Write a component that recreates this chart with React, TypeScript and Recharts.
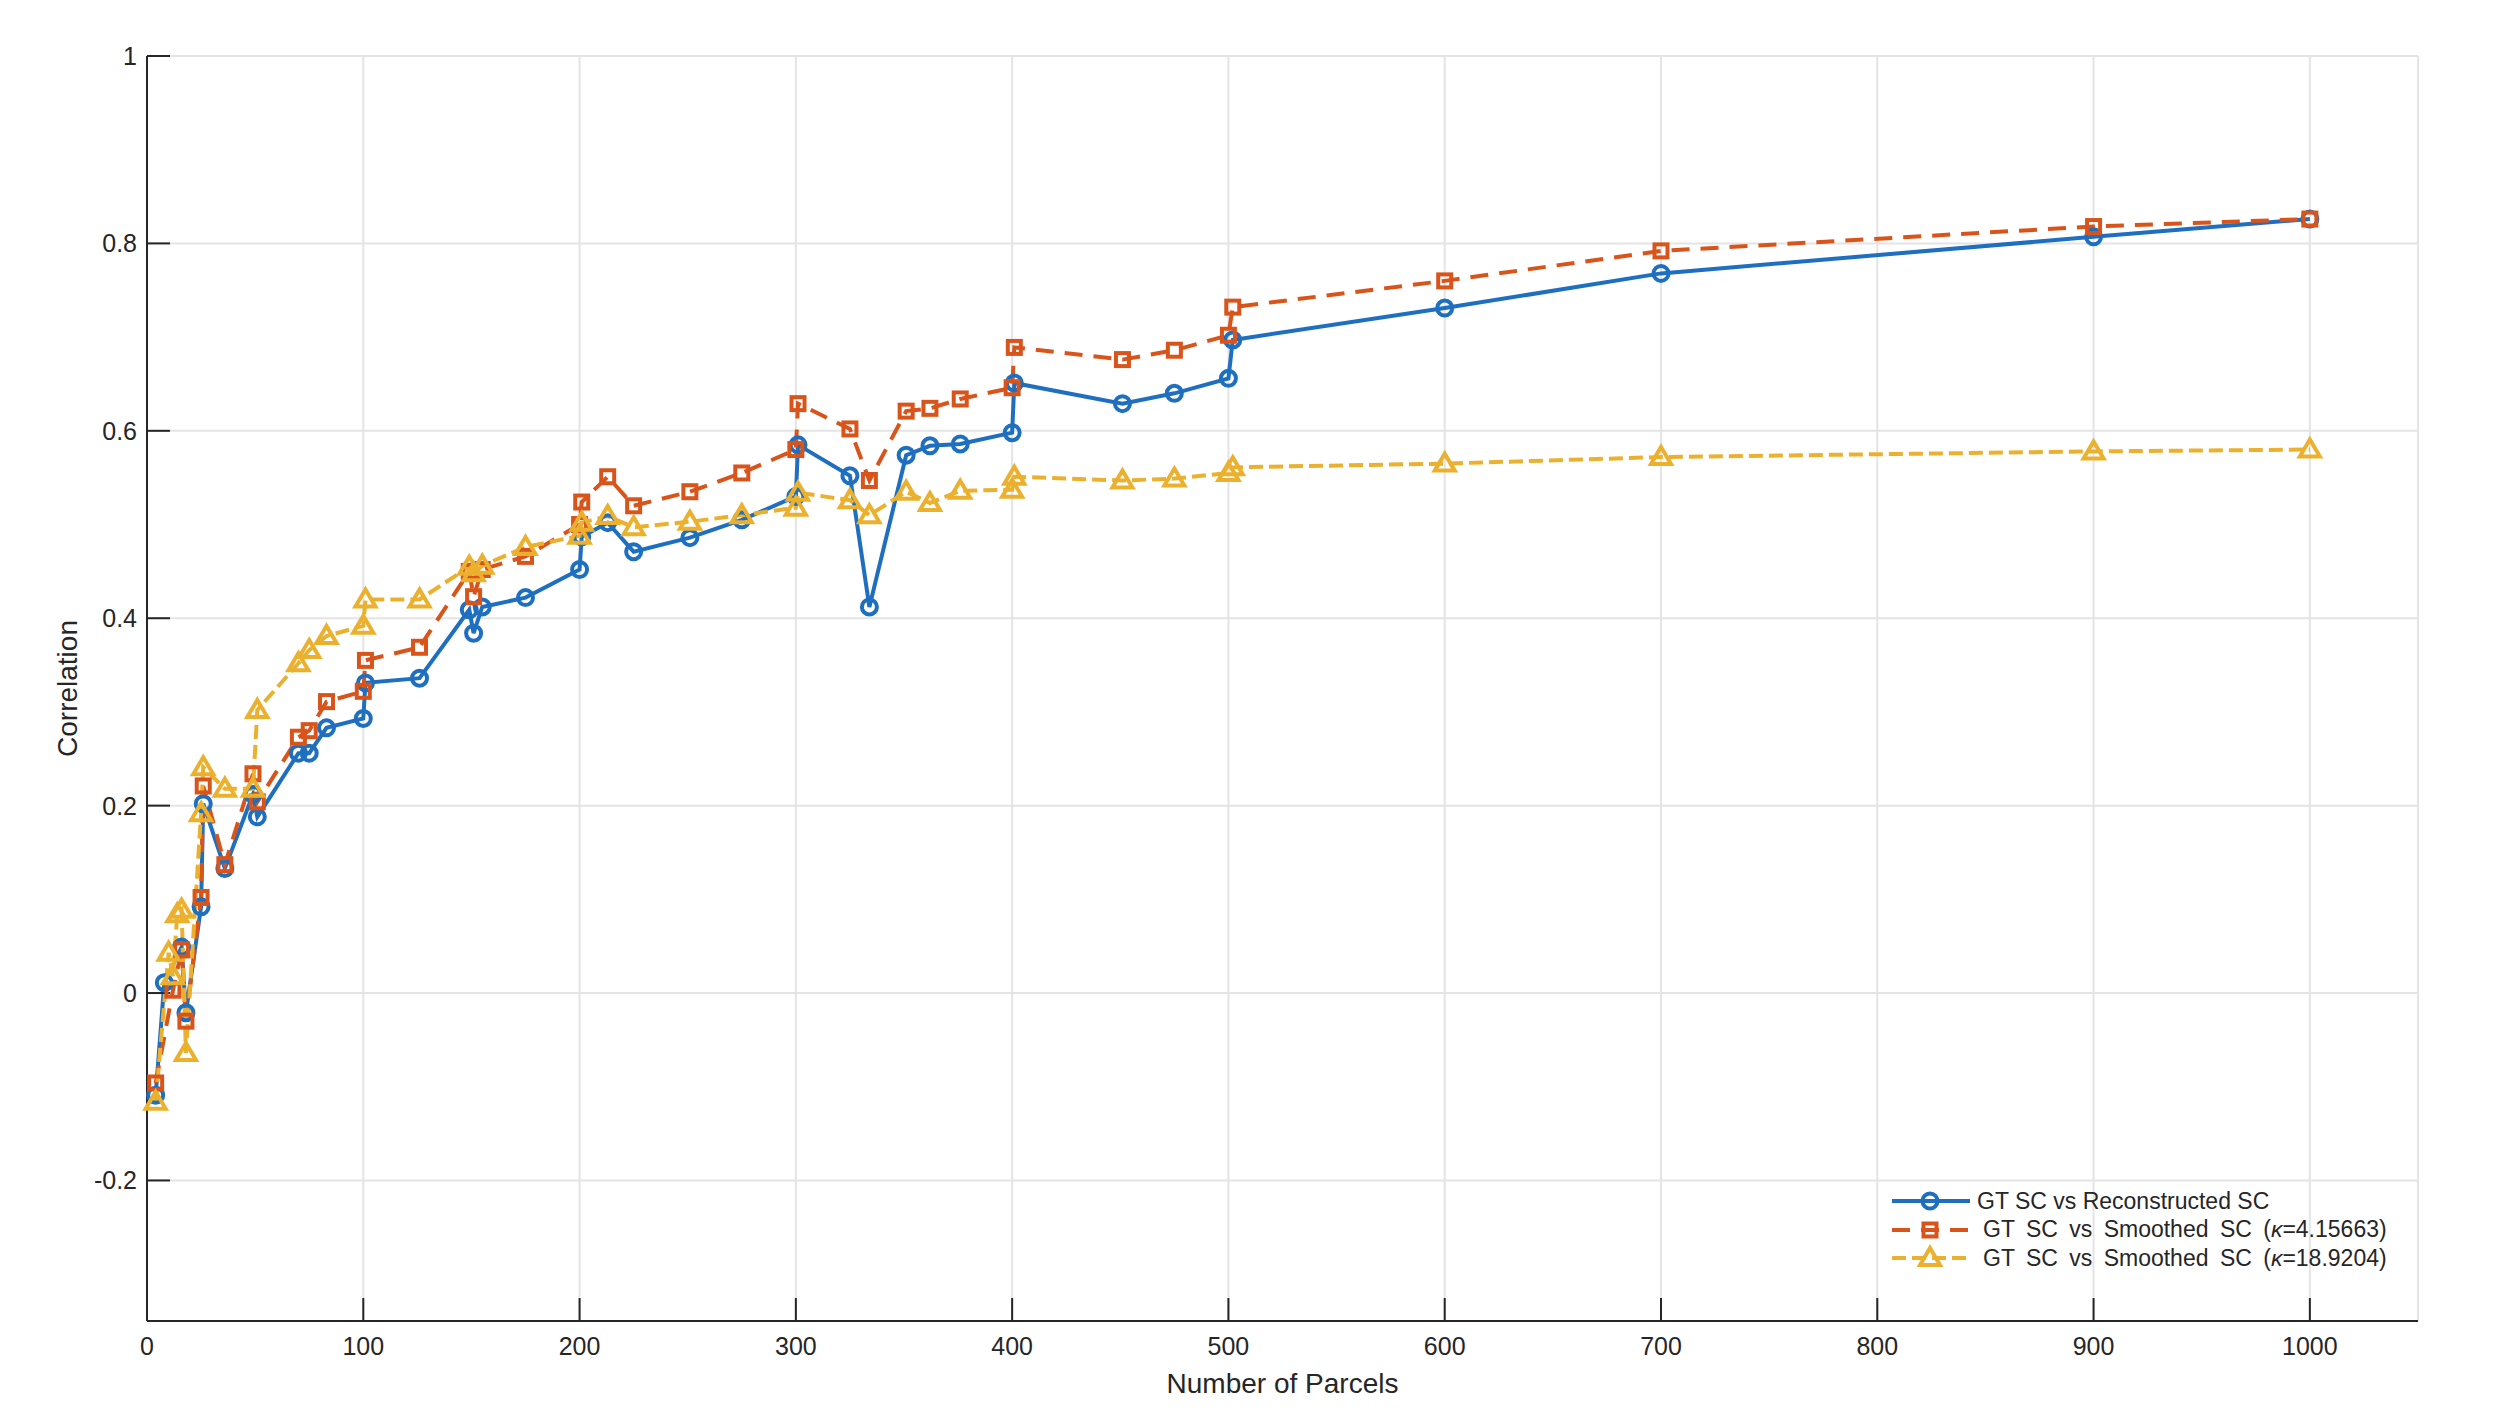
import { LineChart, Line, XAxis, YAxis, CartesianGrid, Legend, Label } from "recharts";

const parcels = [
  4, 8, 10, 12, 14, 16, 18, 25, 26, 36, 49, 51, 70, 75, 83, 100, 101, 126, 149, 151, 155, 175,
  200, 201, 213, 225, 251, 275, 300, 301, 325, 334, 351, 362, 376, 400, 401, 451, 475, 500, 502,
  600, 700, 900, 1000,
];

// GT SC vs Reconstructed SC
const reconstructed = [
  -0.109, 0.011, null, null, null, 0.049, -0.021, 0.092, 0.202, 0.133, 0.212, 0.188, 0.256, 0.256,
  0.283, 0.293, 0.331, 0.336, 0.409, 0.384, 0.412, 0.422, 0.452, 0.487, 0.502, 0.471, 0.486, 0.505,
  0.53, 0.585, 0.552, 0.412, 0.574, 0.584, 0.586, 0.598, 0.651, 0.629, 0.64, 0.656, 0.697, 0.731,
  0.768, 0.807, 0.826,
];

// GT SC vs Smoothed SC (kappa = 4.15663)
const smoothedLow = [
  -0.096, null, null, 0.003, null, 0.046, -0.03, 0.102, 0.221, 0.137, 0.234, 0.204, 0.273, 0.28,
  0.311, 0.322, 0.355, 0.369, 0.45, 0.423, 0.452, 0.466, 0.5, 0.524, 0.551, 0.52, 0.535, 0.555,
  0.58, 0.629, 0.602, 0.547, 0.621, 0.624, 0.634, 0.646, 0.689, 0.676, 0.686, 0.702, 0.732, 0.76,
  0.792, 0.818, 0.826,
];

// GT SC vs Smoothed SC (kappa = 18.9204)
const smoothedHigh = [
  -0.116, null, 0.043, 0.018, 0.084, 0.089, -0.064, 0.192, 0.241, 0.218, 0.218, 0.302, 0.352,
  0.366, 0.381, 0.392, 0.42, 0.42, 0.455, 0.448, 0.456, 0.476, 0.488, 0.502, 0.509, 0.497, 0.503,
  0.51, 0.518, 0.534, 0.526, 0.51, 0.535, 0.523, 0.536, 0.537, 0.551, 0.547, 0.549, 0.555, 0.561,
  0.565, 0.572, 0.578, 0.58,
];

const xTicks = [0, 100, 200, 300, 400, 500, 600, 700, 800, 900, 1000];
const yTicks = [-0.2, 0, 0.2, 0.4, 0.6, 0.8, 1];

const FONT = '"Liberation Sans", Arial, Helvetica, sans-serif';
const INK = "#262626";
const LW = 4;

type Shape = "circle" | "square" | "triangle";

const SERIES: { key: string; color: string; dash?: string; shape: Shape }[] = [
  { key: "reconstructed", color: "#1f6fc0", shape: "circle" },
  { key: "smoothedLow", color: "#d9541a", dash: "18 11", shape: "square" },
  { key: "smoothedHigh", color: "#ebb12e", dash: "14 6", shape: "triangle" },
];

const data = parcels.map((x, i) => ({
  x,
  reconstructed: reconstructed[i],
  smoothedLow: smoothedLow[i],
  smoothedHigh: smoothedHigh[i],
}));

function Marker({ shape, cx, cy, color }: { shape: Shape; cx: number; cy: number; color: string }) {
  if (shape === "circle") {
    return <circle cx={cx} cy={cy} r={7.5} fill="none" stroke={color} strokeWidth={LW} />;
  }
  if (shape === "square") {
    return <rect x={cx - 6.5} y={cy - 6.5} width={13} height={13} fill="none" stroke={color} strokeWidth={LW} />;
  }
  const s = 10;
  return (
    <polygon
      points={`${cx},${cy - s} ${cx + s},${cy + s * 0.7} ${cx - s},${cy + s * 0.7}`}
      fill="none"
      stroke={color}
      strokeWidth={LW}
      strokeLinejoin="miter"
    />
  );
}

const makeDot = (shape: Shape, color: string, name: string) => (p: any) => {
  const k = `${name}-${p.index}`;
  if (p.cx == null || p.cy == null || p.value == null) return <g key={k} />;
  return (
    <g key={k}>
      <Marker shape={shape} cx={p.cx} cy={p.cy} color={color} />
    </g>
  );
};

const LegendContent = () => {
  const rows = [
    { s: SERIES[0], text: <>GT SC vs Reconstructed SC</>, spaced: false },
    { s: SERIES[1], text: <>GT SC vs Smoothed SC (<i>κ</i>=4.15663)</>, spaced: true },
    { s: SERIES[2], text: <>GT SC vs Smoothed SC (<i>κ</i>=18.9204)</>, spaced: true },
  ];
  return (
    <div style={{ fontFamily: FONT, fontSize: 23, color: INK }}>
      {rows.map(({ s, text, spaced }) => (
        <div key={s.key} style={{ display: "flex", alignItems: "center", height: 28.5 }}>
          <svg width={78} height={28} style={{ flex: "none" }}>
            <line x1={0} y1={14} x2={78} y2={14} stroke={s.color} strokeWidth={LW} strokeDasharray={s.dash} />
            <Marker shape={s.shape} cx={38} cy={14} color={s.color} />
          </svg>
          <span style={{ marginLeft: spaced ? 13 : 7, wordSpacing: spaced ? 5 : 0, whiteSpace: "nowrap" }}>
            {text}
          </span>
        </div>
      ))}
    </div>
  );
};

export default function App() {
  return (
    <div style={{ position: "absolute", left: 0, top: 0, width: 2500, height: 1422, background: "#fff", fontFamily: FONT }}>
      <LineChart width={2500} height={1422} data={data} margin={{ top: 56, right: 82, bottom: 0, left: 0 }}>
        <CartesianGrid stroke="#e4e4e4" strokeWidth={2} />
        <XAxis
          dataKey="x"
          type="number"
          domain={[0, 1050]}
          ticks={xTicks}
          height={101}
          tickSize={-23}
          tickMargin={39}
          axisLine={{ stroke: INK, strokeWidth: 2 }}
          tickLine={{ stroke: INK, strokeWidth: 2 }}
          tick={{ fill: INK, fontSize: 25, fontFamily: FONT }}
        >
          <Label
            content={({ viewBox }: any) => (
              <text
                x={viewBox.x + viewBox.width / 2}
                y={viewBox.y + 72}
                textAnchor="middle"
                fill={INK}
                fontSize={28}
                fontFamily={FONT}
              >
                Number of Parcels
              </text>
            )}
          />
        </XAxis>
        <YAxis
          type="number"
          domain={[-0.35, 1]}
          ticks={yTicks}
          width={147}
          tickSize={-23}
          tickMargin={33}
          axisLine={{ stroke: INK, strokeWidth: 2 }}
          tickLine={{ stroke: INK, strokeWidth: 2 }}
          tick={{ fill: INK, fontSize: 25, fontFamily: FONT }}
        >
          <Label
            content={({ viewBox }: any) => {
              const cx = viewBox.x + 67;
              const cy = viewBox.y + viewBox.height / 2;
              return (
                <text
                  x={cx}
                  y={cy}
                  transform={`rotate(-90 ${cx} ${cy})`}
                  textAnchor="middle"
                  dominantBaseline="central"
                  fill={INK}
                  fontSize={28}
                  fontFamily={FONT}
                >
                  Correlation
                </text>
              );
            }}
          />
        </YAxis>
        {SERIES.map((s) => (
          <Line
            key={s.key}
            type="linear"
            dataKey={s.key}
            stroke={s.color}
            strokeWidth={LW}
            strokeDasharray={s.dash}
            connectNulls
            dot={makeDot(s.shape, s.color, s.key)}
            activeDot={false}
            isAnimationActive={false}
          />
        ))}
        <Legend
          layout="vertical"
          align="center"
          verticalAlign="middle"
          content={<LegendContent />}
          wrapperStyle={{ left: 1892, top: 1187, width: 560 }}
        />
      </LineChart>
    </div>
  );
}
